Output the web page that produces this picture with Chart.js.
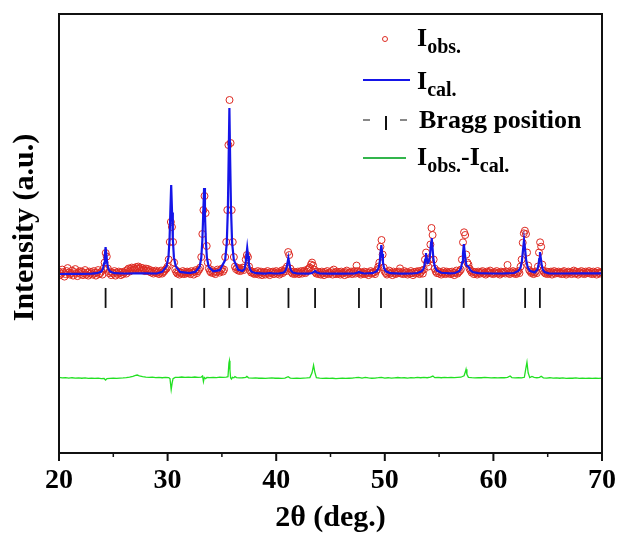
<!DOCTYPE html>
<html>
<head>
<meta charset="utf-8">
<title>XRD refinement</title>
<script src="https://cdn.jsdelivr.net/npm/chart.js@4.4.0/dist/chart.umd.min.js"></script>
<style>
  body { margin: 0; background: #fff; }
  #wrap {
    position: relative; width: 619px; height: 533px;
    font-family: "Liberation Serif", "Times New Roman", serif;
    font-weight: bold; color: #000;
  }
  #xrd { position: absolute; left: 0; top: 0; }
  .lg { position: absolute; font-size: 26px; line-height: 26px; white-space: nowrap; }
  .lg .s { font-size: 20px; line-height: 20px; vertical-align: -7px; }
  .mk { position: absolute; box-sizing: border-box; }
</style>
</head>
<body>
<div id="wrap">
  <canvas id="xrd" width="619" height="533"></canvas>

  <!-- legend -->
  <div class="mk" style="left:382px;top:36px;width:6px;height:6px;border:1px solid #dd2a22;border-radius:50%"></div>
  <div class="lg" style="left:417px;top:25px">I<span class="s">obs.</span></div>

  <div class="mk" style="left:363px;top:79px;width:47px;height:2px;background:#1515e8"></div>
  <div class="lg" style="left:417px;top:68px">I<span class="s">cal.</span></div>

  <div class="mk" style="left:363px;top:119px;width:7px;height:1.5px;background:#888"></div>
  <div class="mk" style="left:385px;top:116px;width:2px;height:14px;background:#111"></div>
  <div class="mk" style="left:400px;top:119px;width:7px;height:1.5px;background:#888"></div>
  <div class="lg" style="left:419px;top:107px">Bragg position</div>

  <div class="mk" style="left:363px;top:157px;width:43px;height:2px;background:#33b54c"></div>
  <div class="lg" style="left:417px;top:144px">I<span class="s">obs.</span>-I<span class="s">cal.</span></div>
</div>

<script>
// Observed pattern, 2θ from 20.0 to 70.0 in 0.1° steps (one row per degree)
const obsStart = 20;
const obsStep = 0.1;
const obs = [
  210,175,190,230,205,160,185,215,245,200,   // 20
  180,195,220,170,205,235,190,165,200,215,   // 21
  185,210,175,195,225,180,200,170,210,190,   // 22
  205,180,215,195,170,200,225,185,195,210,   // 23
  180,240,300,395,360,240,195,210,175,200,   // 24
  190,215,170,200,185,210,195,175,205,185,   // 25
  200,215,190,225,240,210,235,250,225,245,   // 26
  230,255,240,260,235,250,225,245,230,215,   // 27
  240,220,235,210,225,200,215,190,205,220,   // 28
  195,210,185,200,220,190,205,215,230,240,   // 29
  260,330,505,705,655,505,300,230,205,190,   // 30
  210,180,200,195,215,185,205,190,210,195,   // 31
  205,185,215,200,180,210,225,195,215,230,   // 32
  250,355,585,824,964,794,465,300,240,215,   // 33
  200,225,195,210,185,205,230,215,200,225,   // 34
  240,210,230,355,505,824,1473,1922,1493,824,// 35
  505,355,260,235,250,220,240,215,230,250,   // 36
  225,250,330,375,355,260,220,200,210,195,   // 37
  185,205,190,215,180,200,210,175,195,205,   // 38
  180,200,215,190,175,205,195,210,185,200,   // 39
  215,190,205,180,200,220,195,210,235,215,   // 40
  260,405,375,240,205,190,210,185,200,195,   // 41
  210,185,200,215,190,205,220,195,210,230,   // 42
  240,250,280,300,270,230,205,190,210,185,   // 43
  200,180,210,195,175,205,190,215,185,200,   // 44
  195,215,180,230,200,185,210,190,205,180,   // 45
  210,190,200,175,205,220,185,200,195,210,   // 46
  185,200,215,190,270,215,195,205,180,200,   // 47
  190,210,185,205,195,175,200,215,190,205,   // 48
  200,185,215,230,260,300,458,525,380,250,   // 49
  210,195,180,205,220,190,200,175,210,195,   // 50
  185,205,195,210,242,190,200,185,215,195,   // 51
  205,180,200,190,215,195,175,205,190,210,   // 52
  195,215,185,200,220,190,230,330,400,300,   // 53
  260,330,480,645,575,330,240,210,195,215,   // 54
  190,205,180,200,215,195,185,210,200,190,   // 55
  205,185,210,195,175,200,220,190,205,215,   // 56
  230,330,502,602,575,380,300,280,240,220,   // 57
  200,210,185,205,195,180,210,200,190,205,   // 58
  215,190,200,180,210,195,205,220,190,200,   // 59
  185,205,195,215,190,200,180,210,195,205,   // 60
  200,190,210,276,195,185,205,200,215,190,   // 61
  205,185,200,215,195,260,330,498,592,618,   // 62
  585,400,270,225,210,195,205,185,200,210,   // 63
  195,260,400,502,458,280,220,200,190,210,   // 64
  185,205,195,210,180,200,215,190,205,195,   // 65
  210,190,200,185,205,215,195,180,200,210,   // 66
  195,205,185,200,220,190,210,195,180,205,   // 67
  200,215,190,205,185,210,195,200,215,190,   // 68
  205,185,210,195,200,180,215,200,190,205,   // 69
  200                                        // 70
];

// Calculated profile as [2θ, intensity]
const calc = [
  [20.0,186],[21.0,187],[22.0,188],[23.0,190],[23.5,194],[23.9,210],[24.05,238],[24.15,292],
  [24.22,372],[24.29,455],[24.37,372],[24.44,292],[24.54,238],[24.7,210],[25.1,194],[26.0,191],
  [27.0,193],[28.0,192],[29.0,191],[29.5,207],[29.9,262],[30.08,354],[30.18,534],[30.25,799],
  [30.33,1074],[30.41,799],[30.48,534],[30.58,354],[30.75,262],[31.15,207],[32.0,194],[32.55,207],
  [32.95,259],[33.1,348],[33.2,522],[33.28,779],[33.36,1044],[33.44,779],[33.52,522],[33.62,348],
  [33.78,259],[34.2,212],[34.8,224],[35.3,325],[35.45,497],[35.55,833],[35.62,1329],[35.69,1842],
  [35.76,1329],[35.84,833],[35.94,497],[36.1,325],[36.5,228],[36.9,215],[37.08,236],[37.18,288],
  [37.25,365],[37.33,445],[37.41,365],[37.48,288],[37.58,236],[37.73,209],[38.13,194],[39.0,190],
  [39.4,196],[39.8,191],[40.3,192],[40.7,201],[40.85,218],[40.95,250],[41.04,297],[41.12,346],
  [41.2,297],[41.28,250],[41.38,218],[41.53,201],[41.93,191],[43.0,190],[43.3,196],[43.5,210],
  [43.58,216],[43.7,204],[44.0,193],[45.0,189],[46.0,189],[47.2,191],[47.5,200],[47.62,206],
  [47.75,199],[48.1,191],[48.85,194],[49.25,212],[49.42,242],[49.53,300],[49.6,386],[49.68,475],
  [49.76,386],[49.83,300],[49.94,242],[50.1,212],[50.5,194],[51.5,190],[52.5,191],[53.0,196],
  [53.4,212],[53.55,235],[53.65,270],[53.72,330],[53.79,395],[53.86,340],[53.94,295],[54.03,300],
  [54.13,345],[54.2,420],[54.26,500],[54.32,545],[54.4,440],[54.48,330],[54.6,260],[54.78,222],
  [55.2,198],[56.0,192],[56.45,196],[56.85,214],[57.02,245],[57.13,305],[57.2,393],[57.28,485],
  [57.36,400],[57.44,320],[57.52,272],[57.62,262],[57.72,258],[57.85,228],[58.1,205],[58.6,194],
  [60.0,191],[61.0,192],[61.9,196],[62.3,216],[62.5,250],[62.62,310],[62.72,420],[62.82,525],
  [62.92,430],[63.02,320],[63.15,255],[63.35,218],[63.8,202],[64.05,229],[64.15,273],[64.22,338],
  [64.29,405],[64.37,338],[64.45,273],[64.55,229],[64.7,206],[65.1,193],[66.0,191],[68.0,192],
  [70.0,192]
];

// Difference curve (offset below the pattern)
const diff = [
  [20.0,-846],[20.3,-851],[20.6,-848],[20.9,-853],[21.2,-849],[21.5,-852],[21.8,-850],[22.1,-854],
  [22.4,-851],[22.7,-855],[23.0,-852],[23.3,-856],[23.6,-853],[23.9,-857],[24.15,-856],[24.29,-872],
  [24.42,-858],[24.7,-855],[25.0,-853],[25.3,-856],[25.6,-852],[25.9,-850],[26.2,-847],[26.5,-843],
  [26.8,-835],[27.05,-826],[27.2,-822],[27.4,-830],[27.7,-838],[28.0,-842],[28.3,-845],[28.6,-844],
  [28.9,-848],[29.2,-846],[29.5,-849],[29.8,-845],[30.1,-847],[30.22,-858],[30.33,-968],[30.42,-900],
  [30.5,-858],[30.7,-846],[31.0,-845],[31.3,-842],[31.6,-846],[31.9,-843],[32.2,-845],[32.5,-842],
  [32.8,-846],[33.1,-842],[33.22,-832],[33.3,-888],[33.38,-846],[33.5,-858],[33.62,-846],[33.9,-848],
  [34.2,-845],[34.5,-847],[34.8,-843],[35.1,-846],[35.4,-842],[35.56,-838],[35.65,-700],[35.69,-680],
  [35.74,-770],[35.8,-850],[35.88,-862],[35.97,-845],[36.1,-850],[36.2,-838],[36.35,-848],[36.6,-851],
  [36.9,-849],[37.2,-845],[37.3,-836],[37.45,-850],[37.8,-853],[38.1,-851],[38.4,-854],[38.7,-852],
  [39.0,-855],[39.3,-853],[39.6,-851],[39.9,-854],[40.2,-852],[40.5,-855],[40.8,-852],[41.1,-838],
  [41.3,-852],[41.6,-855],[41.9,-853],[42.2,-856],[42.5,-853],[42.8,-851],[43.1,-848],[43.3,-800],
  [43.44,-725],[43.55,-790],[43.7,-848],[44.0,-852],[44.3,-855],[44.6,-853],[44.9,-856],[45.2,-854],
  [45.5,-857],[45.8,-855],[46.1,-853],[46.4,-856],[46.7,-854],[47.0,-852],[47.3,-849],[47.6,-845],
  [47.9,-852],[48.2,-846],[48.5,-851],[48.8,-854],[49.1,-852],[49.4,-849],[49.7,-845],[50.0,-852],
  [50.3,-849],[50.6,-853],[50.9,-850],[51.2,-847],[51.5,-851],[51.8,-849],[52.1,-852],[52.4,-848],
  [52.7,-851],[53.0,-846],[53.3,-849],[53.6,-845],[53.9,-849],[54.2,-842],[54.43,-832],[54.6,-848],
  [54.9,-846],[55.2,-849],[55.5,-846],[55.8,-848],[56.1,-845],[56.4,-848],[56.7,-846],[57.0,-844],
  [57.3,-830],[57.42,-790],[57.48,-765],[57.56,-815],[57.7,-845],[58.0,-848],[58.3,-850],[58.6,-847],
  [58.9,-849],[59.2,-846],[59.5,-848],[59.8,-851],[60.1,-848],[60.4,-850],[60.7,-847],[61.0,-849],
  [61.3,-845],[61.54,-832],[61.7,-847],[62.0,-850],[62.3,-848],[62.6,-851],[62.85,-845],[62.98,-760],
  [63.09,-695],[63.2,-800],[63.35,-848],[63.55,-836],[63.75,-846],[64.0,-849],[64.25,-845],[64.4,-834],
  [64.6,-850],[64.9,-852],[65.2,-849],[65.5,-853],[65.8,-851],[66.1,-854],[66.4,-851],[66.7,-855],
  [67.0,-852],[67.3,-854],[67.6,-851],[67.9,-855],[68.2,-853],[68.5,-856],[68.8,-853],[69.1,-855],
  [69.4,-852],[69.7,-856],[70.0,-853]
];

// Bragg reflection positions (2θ) and the level their markers sit at
const braggPos = [24.29, 30.38, 33.37, 35.68, 37.33, 41.13, 43.58, 47.62, 49.65, 53.82, 54.29, 57.26, 62.92, 64.28];
const braggLevel = -53;

// x axis ticks
const minorTicks = [25, 35, 45, 55, 65];

const serif = "'Liberation Serif', 'Times New Roman', serif";
const yTitle = 'Intensity (a.u.)';

/**
 * Draws the closed frame, the x-axis tick marks and the y title
 */
const framePlugin = {
    id: 'frame',
    afterDraw(chart) {
        const { ctx, chartArea: a, scales: { x } } = chart;
        ctx.save();
        ctx.strokeStyle = '#111';
        ctx.lineWidth = 2;
        ctx.strokeRect(a.left, a.top, a.right - a.left, a.bottom - a.top);

        x.ticks.forEach(t => {
            const px = x.getPixelForValue(t.value);
            ctx.beginPath();
            ctx.moveTo(px, a.bottom);
            ctx.lineTo(px, a.bottom + 8);
            ctx.stroke();
        });
        ctx.lineWidth = 1.5;
        minorTicks.forEach(v => {
            const px = x.getPixelForValue(v);
            ctx.beginPath();
            ctx.moveTo(px, a.bottom);
            ctx.lineTo(px, a.bottom + 4);
            ctx.stroke();
        });

        // rotated y title, baseline just left of the axis
        ctx.translate(a.left - 26.5, (a.top + a.bottom) / 2 - 6);
        ctx.rotate(-Math.PI / 2);
        ctx.fillStyle = '#000';
        ctx.font = `bold 30px ${serif}`;
        ctx.textAlign = 'center';
        ctx.textBaseline = 'alphabetic';
        ctx.fillText(yTitle, 0, 0);
        ctx.restore();
    }
};

const obsPoints = obs.map((y, i) => ({ x: Math.round((obsStart + i * obsStep) * 10) / 10, y }));

new Chart(document.getElementById('xrd'), {
    type: 'scatter',
    data: {
        datasets: [
            {
                label: 'Ical.',
                data: calc.map(([x, y]) => ({ x, y })),
                showLine: true,
                borderColor: '#1515e8',
                borderWidth: 2.2,
                pointRadius: 0,
                tension: 0
            },
            {
                label: 'Iobs.',
                data: obsPoints,
                pointStyle: 'circle',
                pointRadius: 3.5,
                borderWidth: 1,
                borderColor: '#dd2a22',
                backgroundColor: 'rgba(0,0,0,0)'
            },
            {
                label: 'Bragg position',
                data: braggPos.map(p => ({ x: p, y: braggLevel })),
                pointStyle: 'line',
                rotation: 90,
                pointRadius: 10,
                borderWidth: 1.8,
                borderColor: '#111'
            },
            {
                label: 'Iobs.-Ical.',
                data: diff.map(([x, y]) => ({ x, y })),
                showLine: true,
                borderColor: '#22e022',
                borderWidth: 1.3,
                pointRadius: 0,
                tension: 0
            }
        ]
    },
    options: {
        responsive: false,
        animation: false,
        events: [],
        layout: { padding: { top: 14, right: 16.5, left: 0, bottom: 0 } },
        plugins: {
            legend: { display: false },
            tooltip: { enabled: false }
        },
        scales: {
            x: {
                type: 'linear',
                min: 20,
                max: 70,
                afterFit(scale) { scale.height = 80; },
                border: { display: false },
                grid: {
                    drawOnChartArea: false,
                    drawTicks: true,
                    tickLength: 8,
                    tickColor: 'rgba(0,0,0,0)'
                },
                ticks: {
                    stepSize: 10,
                    autoSkip: false,
                    maxRotation: 0,
                    padding: 3,
                    color: '#000',
                    font: { family: serif, size: 28, weight: 'bold' }
                },
                title: {
                    display: true,
                    text: '2θ (deg.)',
                    color: '#000',
                    padding: { top: 0, bottom: 0 },
                    font: { family: serif, size: 30, weight: 'bold', lineHeight: 1 }
                }
            },
            y: {
                min: -1600,
                max: 2780,
                afterFit(scale) { scale.width = 59; },
                border: { display: false },
                grid: { display: false },
                ticks: { display: false },
                title: { display: false }
            }
        }
    },
    plugins: [framePlugin]
});
</script>
</body>
</html>
